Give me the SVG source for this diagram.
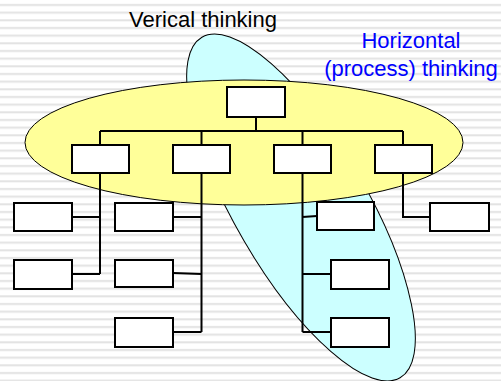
<svg xmlns="http://www.w3.org/2000/svg" width="501" height="381" viewBox="0 0 501 381">
  <defs>
    <pattern id="stripes" patternUnits="userSpaceOnUse" x="0" y="0" width="501" height="7.667">
      <rect x="0" y="0" width="501" height="7.667" fill="#ffffff"/>
      <rect x="0" y="4" width="501" height="2" fill="#e3e3e3"/>
    </pattern>
  </defs>
  <style>
    .box { fill: #ffffff; stroke: #000000; stroke-width: 2; }
    .wire { fill: none; stroke: #000000; stroke-width: 2; }
    .label { font-family: "Liberation Sans", Arial, sans-serif; font-size: 22px; }
  </style>

  <!-- striped backdrop -->
  <rect x="0" y="0" width="501" height="381" fill="url(#stripes)"/>

  <!-- process (horizontal) region, behind the hierarchy band -->
  <ellipse id="process-region" cx="301" cy="207.5" rx="197" ry="66" transform="rotate(59.8 301 207.5)" fill="#ccffff" stroke="#000000" stroke-width="1"/>

  <!-- hierarchy (vertical) band -->
  <ellipse id="hierarchy-band" cx="244" cy="142.5" rx="219" ry="62.5" fill="#ffff99" stroke="#000000" stroke-width="1"/>

  <!-- titles -->
  <text class="label" x="129" y="27" fill="#000000">Verical thinking</text>
  <text class="label" x="411" y="48" fill="#0000ff" text-anchor="middle">Horizontal</text>
  <text class="label" x="411" y="76" fill="#0000ff" text-anchor="middle">(process) thinking</text>

  <!-- connectors -->
  <g id="connectors" class="wire">
    <path d="M256 117 V131"/>
    <path d="M100 131 H403"/>
    <path d="M100 131 V145 M201.5 131 V145 M302.5 131 V145 M403 131 V145"/>
    <path d="M100 173 V274 M72 217 H100 M72 274 H100"/>
    <path d="M201.5 173 V332 M173 217 H201.5 M173 273 L201.5 274 M173 332 H201.5"/>
    <path d="M302.5 173 V332 M302.5 217 L317 216 M302.5 274 H331 M302.5 332 H331"/>
    <path d="M403 173 V217 H430"/>
  </g>

  <!-- nodes -->
  <g id="root"><rect class="box" x="227" y="87" width="58" height="30"/></g>
  <g id="unit-1"><rect class="box" x="72" y="145" width="57" height="28"/></g>
  <g id="unit-2"><rect class="box" x="173" y="145" width="57" height="28"/></g>
  <g id="unit-3"><rect class="box" x="274" y="145" width="57" height="28"/></g>
  <g id="unit-4"><rect class="box" x="375" y="145" width="57" height="28"/></g>
  <g id="unit-1-a"><rect class="box" x="14" y="203" width="58" height="28"/></g>
  <g id="unit-1-b"><rect class="box" x="14" y="260" width="58" height="29"/></g>
  <g id="unit-2-a"><rect class="box" x="115" y="203" width="58" height="28"/></g>
  <g id="unit-2-b"><rect class="box" x="115" y="260" width="58" height="27"/></g>
  <g id="unit-2-c"><rect class="box" x="115" y="318" width="58" height="29"/></g>
  <g id="unit-3-a"><rect class="box" x="317" y="202" width="57" height="28"/></g>
  <g id="unit-3-b"><rect class="box" x="331" y="260" width="58" height="29"/></g>
  <g id="unit-3-c"><rect class="box" x="331" y="318" width="58" height="29"/></g>
  <g id="unit-4-a"><rect class="box" x="430" y="203" width="59" height="28"/></g>
</svg>
